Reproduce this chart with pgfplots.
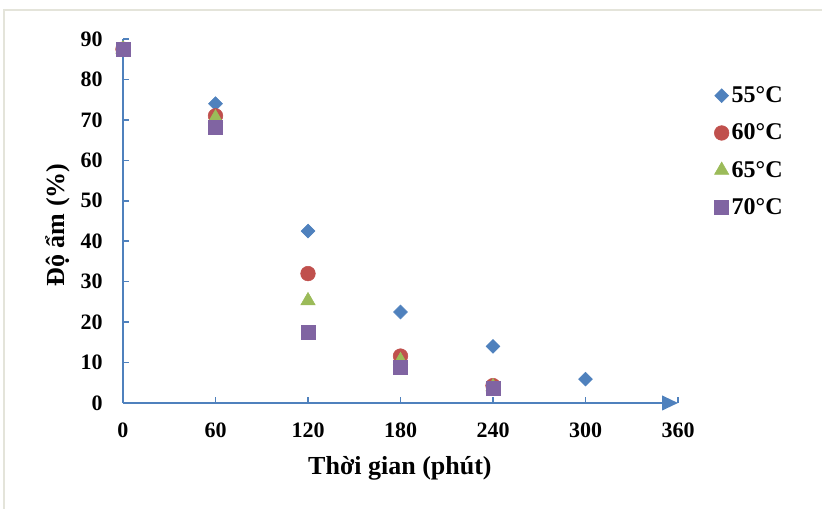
\documentclass[border=0pt]{standalone}
\usepackage{pgfplots}
\pgfplotsset{compat=1.18}
\usepackage{fontspec}
\setmainfont{Liberation Serif}
\usetikzlibrary{arrows.meta}
\definecolor{axblue}{RGB}{79,129,189}
\definecolor{c1}{RGB}{79,129,189}
\definecolor{c2}{RGB}{192,80,77}
\definecolor{c3}{RGB}{155,187,89}
\definecolor{c4}{RGB}{128,100,162}
\definecolor{frame}{RGB}{228,228,218}
\begin{document}
\begin{tikzpicture}
\path[use as bounding box] (0pt,0pt) rectangle (616.5pt,381.75pt);
\draw[frame, line width=0.8pt] (3pt,0pt) -- (3pt,374.25pt) -- (620pt,374.25pt);
\begin{axis}[
  at={(92.25pt,79.5pt)}, anchor=south west,
  scale only axis, width=416.25pt, height=273pt,
  xmin=0, xmax=360, ymin=0, ymax=90,
  axis lines=left,
  axis line style={axblue, line width=1.5pt},
  x axis line style={-{Triangle[length=12pt,width=11pt]}},
  y axis line style={-},
  xtick={0,60,...,360}, ytick={0,10,...,90},
  tick style={axblue, line width=1.2pt},
  tick align=inside, major tick length=4.5pt,
  /pgf/number format/assume math mode=true,
  tick label style={font=\fontsize{16.5}{19}\selectfont\bfseries, inner sep=0pt, text=black},
  yticklabel style={xshift=-15pt},
  xticklabel style={yshift=-15pt},
  clip=false,
  xlabel={Thời gian (phút)},
  ylabel={Độ ẩm (\%)},
  label style={font=\fontsize{19.5}{22}\selectfont\bfseries},
  xlabel style={at={(axis description cs:0.499,-0.179)}, anchor=center},
  ylabel style={at={(axis description cs:-0.117,0.489)}, anchor=center, rotate=0},
  legend style={at={(axis description cs:1.065,0.877)}, anchor=north west,
    draw=none, fill=none, font=\fontsize{18}{21}\selectfont\bfseries,
    row sep=10.5pt, inner sep=0pt},
  legend cell align=left,
]
\addplot[only marks, mark=square*, mark size=3.7pt, mark options={rotate=45, fill=c1, draw=c1}] coordinates {
(0,87.5) (60,74.0) (120,42.5) (180,22.5) (240,14.0) (300,5.9)};
\addlegendentry{55°C}
\addplot[only marks, mark=*, mark size=5.5pt, mark options={fill=c2, draw=c2}] coordinates {
(0,87.5) (60,71.0) (120,32.0) (180,11.6) (240,4.3)};
\addlegendentry{60°C}
\addplot[only marks, mark=triangle*, mark size=6.2pt, mark options={fill=c3, draw=c3}] coordinates {
(0,87.5) (60,70.5) (120,25.3) (180,10.5) (240,4.0)};
\addlegendentry{65°C}
\addplot[only marks, mark=square*, mark size=5.25pt, mark options={fill=c4, draw=c4}] coordinates {
(0,87.5) (60,68.2) (120,17.5) (180,8.8) (240,3.6)};
\addlegendentry{70°C}
\end{axis}
\end{tikzpicture}
\end{document}
